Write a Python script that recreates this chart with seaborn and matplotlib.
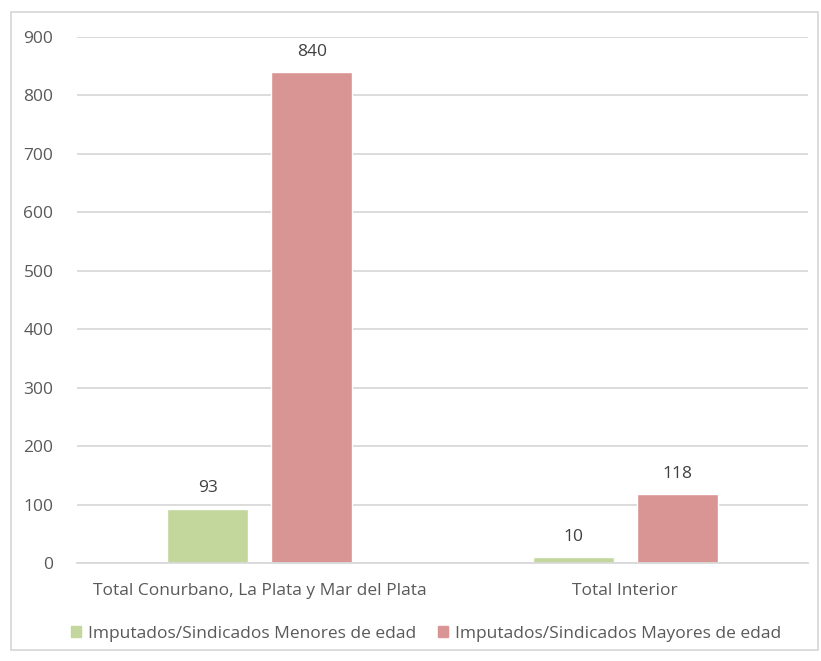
import matplotlib
matplotlib.use("Agg")
import matplotlib.pyplot as plt
import pandas as pd
import seaborn as sns
from matplotlib.patches import Rectangle

# data
regions = ["Total Conurbano, La Plata y Mar del Plata", "Total Interior"]
series = ["Imputados/Sindicados Menores de edad", "Imputados/Sindicados Mayores de edad"]
menores = [93, 10]
mayores = [840, 118]
yticks = [0, 100, 200, 300, 400, 500, 600, 700, 800, 900]

df = pd.DataFrame({
    "region": regions * 2,
    "serie": [series[0]] * 2 + [series[1]] * 2,
    "valor": menores + mayores,
})

sns.set_theme(style="white")
plt.rcParams["font.family"] = ["Open Sans", "DejaVu Sans"]

colors = ["#C3D69B", "#D99594"]
text_gray = "#595959"
fs = 12.5

fig = plt.figure(figsize=(8.21, 6.61), dpi=100)
ax = fig.add_axes([0.0938, 0.148, 0.8904, 0.796])

sns.barplot(data=df, x="region", y="valor", hue="serie", hue_order=series,
            palette=colors, width=0.57, gap=0.22, saturation=1, ax=ax, legend=False)

ax.set_ylim(0, 900)
ax.set_xlim(-0.5, 1.5)
ax.set_yticks(yticks)
ax.yaxis.grid(True, color="#D9D9D9", linewidth=1.3)
ax.set_axisbelow(True)
for s in ["top", "right", "left"]:
    ax.spines[s].set_visible(False)
ax.spines["bottom"].set_color("#D9D9D9")
ax.spines["bottom"].set_linewidth(1.3)
ax.tick_params(axis="both", length=0, labelsize=fs, labelcolor=text_gray)
ax.tick_params(axis="y", pad=17)
ax.tick_params(axis="x", pad=14)
ax.set_xlabel("")
ax.set_ylabel("")

for cont in ax.containers:
    ax.bar_label(cont, padding=9, fontsize=fs, color="#404040")

handles = [Rectangle((0, 0), 1, 1, color=c) for c in colors]
fig.legend(handles, series, loc="center", bbox_to_anchor=(0.519, 0.041), ncol=2,
           frameon=False, fontsize=fs, labelcolor=text_gray,
           handlelength=0.6, handleheight=0.6, handletextpad=0.4, columnspacing=1.2)

# chart border
fig.patches.append(Rectangle((11 / 821, 1 - 650 / 661), 807 / 821, 638 / 661,
                             transform=fig.transFigure, fill=False,
                             edgecolor="#D9D9D9", linewidth=1.3))

fig.savefig("out.png", dpi=100)
